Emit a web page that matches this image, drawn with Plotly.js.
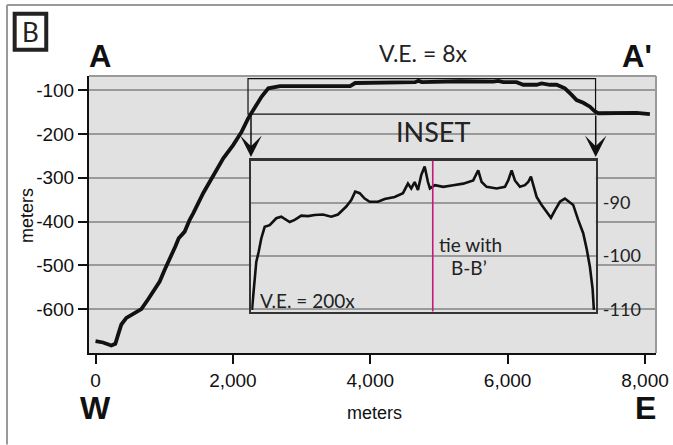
<!DOCTYPE html>
<html>
<head>
<meta charset="utf-8">
<script src="https://cdn.plot.ly/plotly-3.0.1.min.js"></script>
<style>html,body{margin:0;padding:0;background:#fff;}#chart{width:673px;height:445px;}</style>
</head>
<body>
<div id="chart"></div>
<script>
// Main profile (distance in meters, elevation in meters)
const mainDist = [0, 109, 230, 288, 337, 376, 449, 570, 667, 764, 861, 934, 1007, 1080, 1162, 1211, 1298, 1371, 1424, 1569, 1715, 1860, 2006, 2128, 2224, 2322, 2419, 2516, 2613, 2686, 3707, 3780, 4653, 4700, 4749, 5160, 5305, 5790, 5863, 5936, 6130, 6227, 6422, 6495, 6616, 6713, 6834, 6932, 7004, 7101, 7198, 7271, 7319, 7877, 7974, 8071];
const mainElev = [-673, -676, -683, -679, -654, -635, -620, -609, -600, -578, -556, -537, -510, -486, -457, -438, -423, -396, -381, -335, -297, -256, -225, -195, -164, -138, -115, -96, -93, -91, -91, -84, -82, -79, -82, -81, -80, -81, -79, -82, -82, -88, -88, -85, -88, -88, -96, -111, -123, -129, -138, -149, -153, -152, -153, -155];

// Inset profile (V.E. = 200x)
const insetDist = [2260, 2289, 2323, 2358, 2396, 2446, 2519, 2615, 2688, 2811, 2884, 2980, 3078, 3176, 3297, 3418, 3516, 3637, 3710, 3768, 3833, 3906, 3979, 4100, 4198, 4344, 4465, 4538, 4586, 4636, 4684, 4732, 4782, 4830, 4859, 4932, 5053, 5199, 5345, 5491, 5564, 5614, 5687, 5833, 5954, 6002, 6052, 6100, 6173, 6246, 6294, 6334, 6367, 6417, 6490, 6563, 6626, 6684, 6757, 6830, 6951, 7024, 7097, 7147, 7195, 7234, 7253];
const insetElev = [-110.1, -106.1, -101.1, -99.2, -96.7, -94.5, -94.2, -92.9, -92.6, -93.6, -93.2, -92.4, -92.5, -92.3, -92.2, -92.6, -92.2, -90.7, -89.5, -87.9, -88.2, -89.2, -89.8, -89.8, -89.3, -88.9, -88.2, -86.4, -87.3, -86.1, -87.6, -84.8, -83.2, -86.1, -87.3, -86.7, -87.0, -86.7, -86.4, -85.8, -83.9, -86.1, -87.0, -87.3, -87.0, -85.8, -83.9, -85.8, -87.0, -86.7, -86.1, -85.1, -86.7, -88.9, -90.4, -91.7, -92.8, -91.4, -89.8, -89.2, -90.4, -93.2, -95.7, -98.6, -102.0, -106.1, -110.1];

// Tick values and labels (plain hyphen minus as in the original)
const mainXTicks = [0, 2000, 4000, 6000, 8000];
const mainXLabels = ['0', '2,000', '4,000', '6,000', '8,000'];
const mainYTicks = [-100, -200, -300, -400, -500, -600];
const mainYLabels = ['-100', '-200', '-300', '-400', '-500', '-600'];
const insetYTicks = [-90, -100, -110];
const insetYLabels = ['-90', '-100', '-110'];

// Zoom window on main profile and tie point
const zoomBoxX = [2220, 7280];
const zoomBoxY = [-155, -74];
const tieX = 4900;

const SANS = 'Liberation Sans, Arial, sans-serif';
const HUM = 'Lato, Open Sans, sans-serif';

const traces = [
  {x: mainDist, y: mainElev, type: 'scatter', mode: 'lines', xaxis: 'x', yaxis: 'y',
   line: {color: '#111', width: 3.8}, hoverinfo: 'skip'},
  {x: insetDist, y: insetElev, type: 'scatter', mode: 'lines', xaxis: 'x2', yaxis: 'y2',
   line: {color: '#111', width: 2.6}, hoverinfo: 'skip'}
];

const ann = (text, x, y, size, opts) => Object.assign({
  text: text, x: x, y: y, xref: 'paper', yref: 'paper', showarrow: false,
  xanchor: 'center', yanchor: 'middle', font: {family: HUM, size: size, color: '#222'}
}, opts || {});

const layout = {
  width: 673, height: 445,
  margin: {l: 89, r: 17, t: 76, b: 92, pad: 0},
  paper_bgcolor: '#fff',
  plot_bgcolor: '#e1e1e1',
  showlegend: false,
  xaxis: {
    domain: [0, 1], range: [-95, 8160], tickvals: mainXTicks, ticktext: mainXLabels,
    showgrid: false, zeroline: false, showline: true, linecolor: '#111', linewidth: 2,
    ticks: 'outside', ticklen: 9, tickwidth: 2, tickcolor: '#111',
    tickfont: {family: SANS, size: 19, color: '#111'}, anchor: 'y'
  },
  yaxis: {
    domain: [0, 1], range: [-700, -68], tickvals: mainYTicks, ticktext: mainYLabels,
    showgrid: true, gridcolor: '#9a9a9a', gridwidth: 2, zeroline: false,
    showline: true, linecolor: '#111', linewidth: 2,
    ticks: 'outside', ticklen: 9, tickwidth: 2, tickcolor: '#111',
    tickfont: {family: SANS, size: 19, color: '#111'}, anchor: 'x'
  },
  xaxis2: {
    domain: [0.2862, 0.8937], range: [2250, 7280], anchor: 'y2',
    showgrid: false, zeroline: false, showticklabels: false, ticks: '',
    showline: true, mirror: true, linecolor: '#333', linewidth: 2.5
  },
  yaxis2: {
    domain: [0.1498, 0.6942], range: [-110.4, -82.1], anchor: 'x2', side: 'right',
    tickvals: insetYTicks, ticktext: insetYLabels, showgrid: true, gridcolor: '#9a9a9a', gridwidth: 2,
    zeroline: false, ticks: '', ticklabelstandoff: 1,
    tickfont: {family: HUM, size: 18, color: '#222'},
    showline: true, mirror: true, linecolor: '#333', linewidth: 2.5
  },
  shapes: [
    // outer frame (top and left)
    {type: 'line', xref: 'paper', yref: 'paper', x0: -0.1446, x1: 1.03, y0: 1.2563, y1: 1.2563, line: {color: '#9a9a9a', width: 2}},
    {type: 'line', xref: 'paper', yref: 'paper', x0: -0.1446, x1: -0.1446, y0: 1.2563, y1: -0.33, line: {color: '#9a9a9a', width: 2}},
    // main plot top and right borders
    {type: 'line', xref: 'paper', yref: 'paper', x0: 0, x1: 1, y0: 1, y1: 1, line: {color: '#9a9a9a', width: 2}},
    {type: 'line', xref: 'paper', yref: 'paper', x0: 1, x1: 1, y0: 0, y1: 1, line: {color: '#9a9a9a', width: 2}},
    // panel label box
    {type: 'rect', xref: 'paper', yref: 'paper', x0: -0.1311, x1: -0.0754, y0: 1.0949, y1: 1.2249, fillcolor: '#fff', line: {color: '#222', width: 4}},
    // zoom window on main profile
    {type: 'rect', xref: 'x', yref: 'y', x0: zoomBoxX[0], x1: zoomBoxX[1], y0: zoomBoxY[0], y1: zoomBoxY[1], line: {color: '#111', width: 1.2}, layer: 'above'},
    // tie line with B-B'
    {type: 'line', xref: 'x2', yref: 'y2 domain', x0: tieX, x1: tieX, y0: 0, y1: 1, line: {color: '#c8177a', width: 1.6}, layer: 'above'}
  ],
  annotations: [
    ann('B', -0.1032, 1.1598, 26, {font: {family: HUM, size: 26, color: '#222'}}),
    ann('A', 0.0194, 1.072, 31, {font: {family: SANS, size: 31, color: '#111', weight: 'bold'}}),
    ann("A'", 0.9665, 1.072, 31, {font: {family: SANS, size: 31, color: '#111', weight: 'bold'}}),
    ann('W', 0.0123, -0.198, 32, {font: {family: SANS, size: 32, color: '#111', weight: 'bold'}}),
    ann('E', 0.9806, -0.198, 32, {font: {family: SANS, size: 32, color: '#111', weight: 'bold'}}),
    ann('V.E. = 8x', 0.5891, 1.083, 23),
    ann('INSET', 0.6067, 0.8014, 27),
    ann('V.E. = 200x', 0.3862, 0.1913, 19),
    ann('tie with', 0.672, 0.390, 19),
    ann('B-B\u2019', 0.670, 0.307, 19),
    ann('meters', 0.5044, -0.218, 18, {font: {family: SANS, size: 18, color: '#111'}}),
    ann('meters', -0.1093, 0.4946, 18, {textangle: -90, font: {family: SANS, size: 18, color: '#111'}}),
    // arrows from zoom window down to the inset
    {text: '', xref: 'paper', yref: 'paper', x: 0.2857, y: 0.7076, ax: 0, ay: -43, showarrow: true,
     arrowhead: 3, arrowsize: 2.4, arrowwidth: 1.5, arrowcolor: '#111'},
    {text: '', xref: 'paper', yref: 'paper', x: 0.8937, y: 0.7076, ax: 0, ay: -43, showarrow: true,
     arrowhead: 3, arrowsize: 2.4, arrowwidth: 1.5, arrowcolor: '#111'}
  ]
};

Plotly.newPlot('chart', traces, layout, {displayModeBar: false, staticPlot: true});
</script>
</body>
</html>
